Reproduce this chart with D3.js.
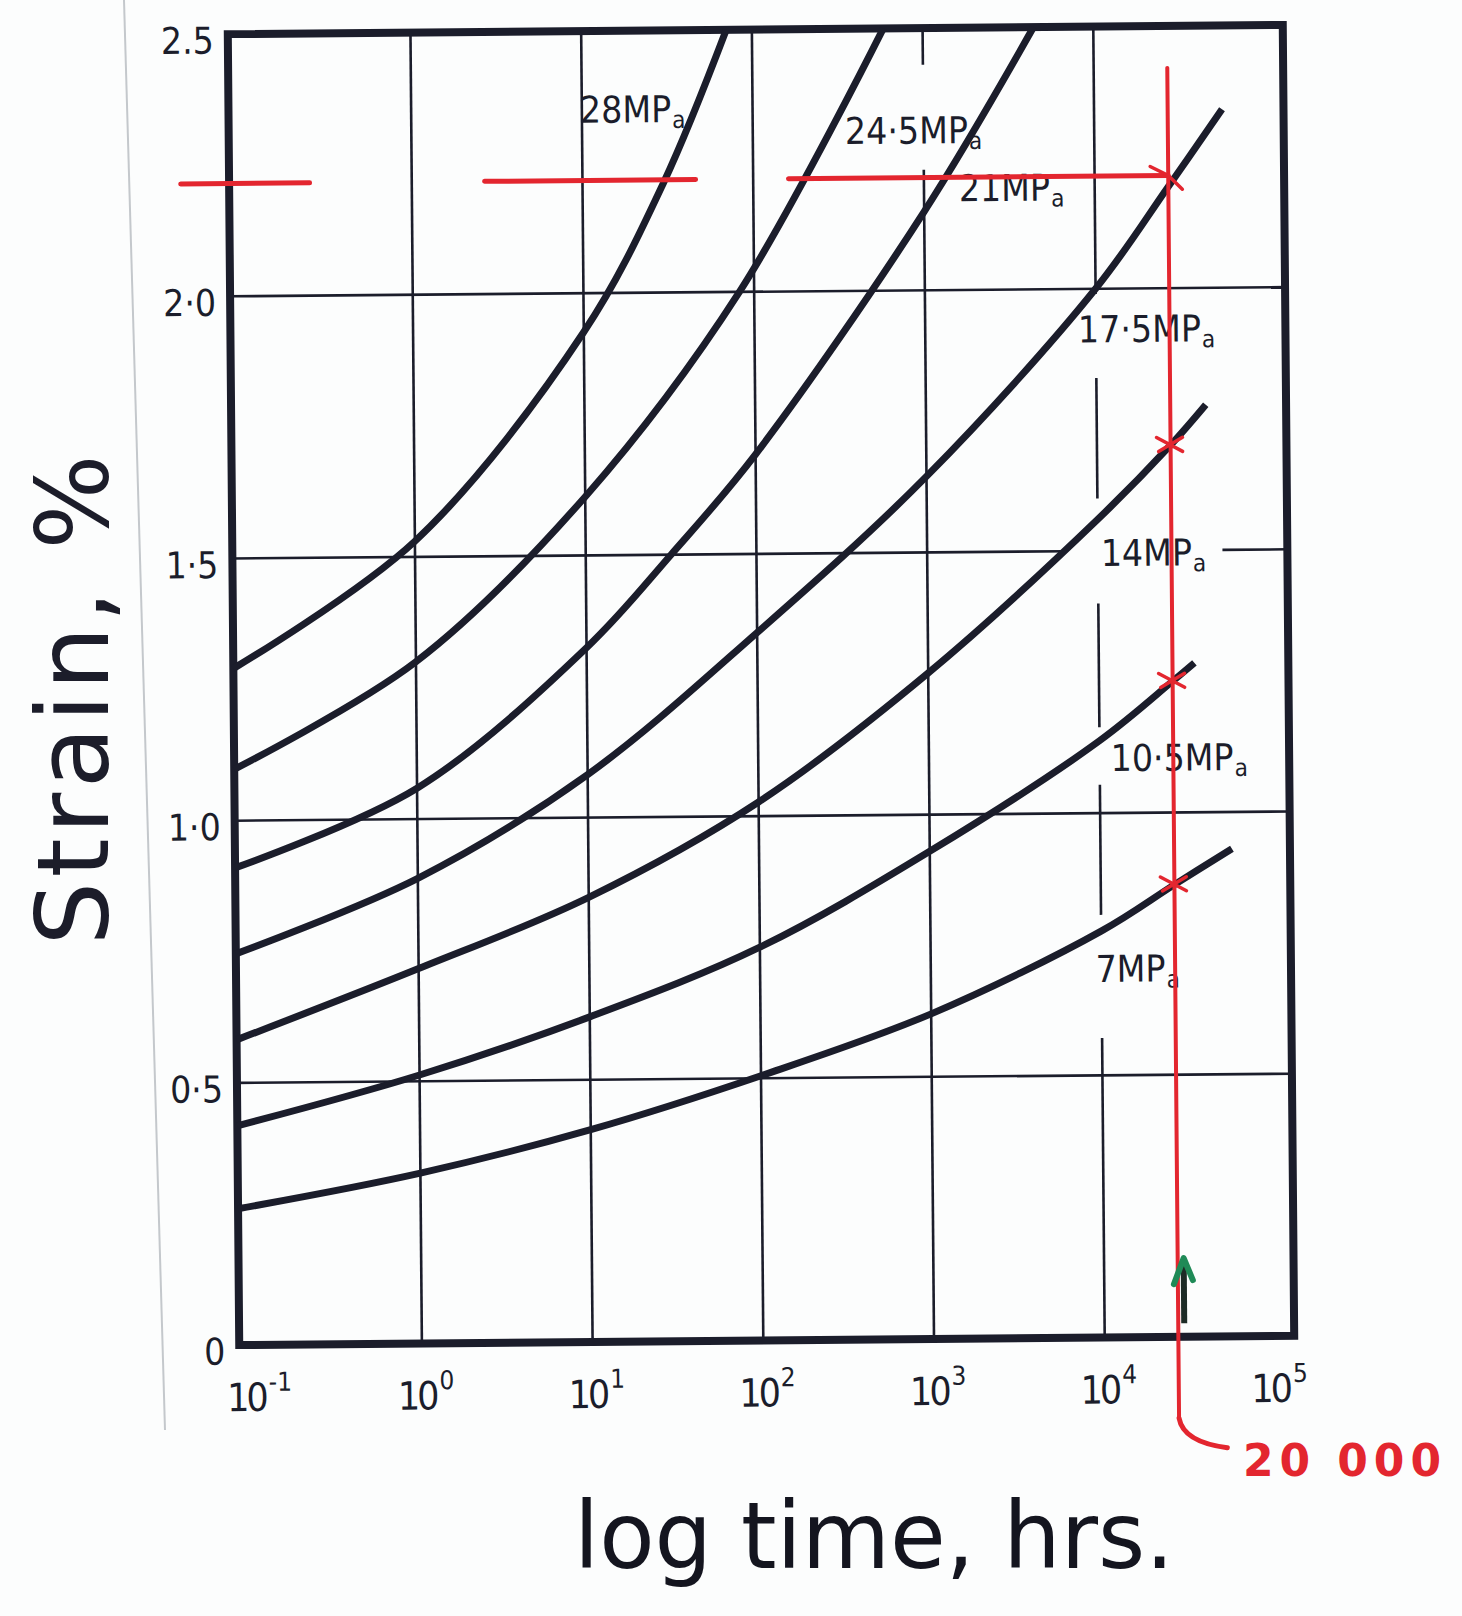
<!DOCTYPE html>
<html>
<head>
<meta charset="utf-8">
<script src="https://cdn.jsdelivr.net/npm/d3@7"></script>
<style>
  body { margin: 0; background: #fcfdfd; }
  svg { display: block; }
</style>
</head>
<body>
<svg id="chart" width="1462" height="1616"></svg>
<script>
// creep curves : strain vs log time, one curve per stress level
var time28 = [0.085, 1, 10, 29.9, 70.8];
var strain28 = [1.29, 1.53, 1.926, 2.21, 2.5];
var time245 = [0.085, 1, 10, 82, 589];
var strain245 = [1.098, 1.30, 1.612, 2.0, 2.5];
var time21 = [0.085, 1, 10, 31.6, 100, 1000, 4470];
var strain21 = [0.91, 1.059, 1.324, 1.5, 1.69, 2.15, 2.5];
var time175 = [0.085, 1, 10, 100, 1000, 10000, 26900, 56200];
var strain175 = [0.746, 0.887, 1.082, 1.35, 1.645, 2.0, 2.193, 2.34];
var time14 = [0.085, 1, 10, 100, 1000, 10000, 26900, 43600];
var strain14 = [0.582, 0.715, 0.848, 1.027, 1.27, 1.56, 1.70, 1.777];
var time105 = [0.085, 1, 10, 100, 1000, 10000, 26900, 36300];
var strain105 = [0.418, 0.512, 0.62, 0.75, 0.93, 1.138, 1.25, 1.285];
var time7 = [0.085, 1, 10, 100, 1000, 10000, 26900, 58900];
var strain7 = [0.26, 0.325, 0.405, 0.505, 0.62, 0.775, 0.862, 0.93];

var stressLabels = ["28", "24·5", "21", "17·5", "14", "10·5", "7"];
var labelTime = [9.75, 347, 1600, 7850, 10400, 11600, 9230];
var labelStrain = [2.325, 2.28, 2.169, 1.898, 1.471, 1.08, 0.678];

var xTickValues = [0.1, 1, 10, 100, 1000, 10000, 100000];
var xTickPowers = ["-1", "0", "1", "2", "3", "4", "5"];
var yTickValues = [0, 0.5, 1, 1.5, 2, 2.5];
var yTickLabels = ["0", "0·5", "1·0", "1·5", "2·0", "2.5"];
var gridTimes = [1, 10, 100, 1000, 10000];
var gridStrains = [0.5, 1, 1.5, 2];
// breaks in the printed grid (round the stress labels)
var timeGridGaps = {1000: [[2.43, 2.23]], 10000: [[1.99, 1.83], [1.60, 1.40], [1.164, 1.054], [0.806, 0.571]]};
var strainGridGaps = {1.5: [[6460, 53700]]};

// hand written notes in red / green
var redStrain = 2.215;
var redTime = 27000;
var redDashes = [[0.0443, 0.252], [2.67, 46], [161, 27000]];
var redTop = 2.42, redBottom = -0.155;
var crossStrains = [1.70, 1.25, 0.862];
var greenArrow = [0.026, 0.15];

var ink = "#1b1d2b";
var red = "#e3262f";
var svg = d3.select("#chart");

var x = d3.scaleLog().domain([Math.pow(10, -1.07), Math.pow(10, 5.11)]).range([233.5, 1288.5]);
var y = d3.scaleLinear().domain([0, 2.5]).range([1340.5, 29.5]);

// the scan is a little skewed
var g = svg.append("g").attr("transform", "rotate(-0.5,761,685)");

// faint page edge from the scan
svg.append("line")
    .attr("x1", 124).attr("y1", 0).attr("x2", 165).attr("y2", 1430)
    .attr("stroke", "#c4c8cc").attr("stroke-width", 2);

function cutSegs(lo, hi, gaps) {
    var out = [], start = lo;
    (gaps || []).forEach(function(gp) {
        out.push([start, gp[0]]);
        start = gp[1];
    });
    out.push([start, hi]);
    return out;
}

var grid = g.append("g").attr("stroke", ink).attr("stroke-width", 2.6);
gridTimes.forEach(function(t) {
    cutSegs(2.5, 0, timeGridGaps[t]).forEach(function(sg) {
        grid.append("line")
            .attr("x1", x(t)).attr("x2", x(t))
            .attr("y1", y(sg[0])).attr("y2", y(sg[1]));
    });
});
gridStrains.forEach(function(s) {
    cutSegs(x.domain()[0], x.domain()[1], strainGridGaps[s]).forEach(function(sg) {
        grid.append("line")
            .attr("x1", x(sg[0])).attr("x2", x(sg[1]))
            .attr("y1", y(s)).attr("y2", y(s));
    });
});

g.append("rect")
    .attr("x", x.range()[0]).attr("y", y(2.5))
    .attr("width", x.range()[1] - x.range()[0])
    .attr("height", y(0) - y(2.5))
    .attr("fill", "none").attr("stroke", ink).attr("stroke-width", 8);

// curves
var series = [
    [time28, strain28], [time245, strain245], [time21, strain21], [time175, strain175],
    [time14, strain14], [time105, strain105], [time7, strain7]
];
var line = d3.line()
    .x(function(d) { return x(d[0]); })
    .y(function(d) { return y(d[1]); })
    .curve(d3.curveCatmullRom.alpha(0.5));

series.forEach(function(sr) {
    var pts = sr[0].map(function(t, i) { return [t, sr[1][i]]; });
    g.append("path")
        .attr("d", line(pts))
        .attr("fill", "none")
        .attr("stroke", ink)
        .attr("stroke-width", 7);
});

var labelFont = "'DejaVu Sans Condensed', 'DejaVu Sans', sans-serif";

stressLabels.forEach(function(lb, i) {
    var t = g.append("text")
        .attr("x", x(labelTime[i])).attr("y", y(labelStrain[i]))
        .attr("font-family", labelFont).attr("font-size", 37)
        .attr("fill", ink);
    t.append("tspan").text(lb + "MP");
    t.append("tspan").text("a")
        .attr("font-size", 24).attr("dx", 1).attr("dy", 6);
});

// axes
var yAxis = g.append("g")
    .attr("transform", "translate(" + (x.range()[0] - 14) + ",0)")
    .call(d3.axisLeft(y).tickValues(yTickValues)
        .tickFormat(function(d, i) { return yTickLabels[i]; })
        .tickSize(0).tickPadding(0));
yAxis.select(".domain").remove();
yAxis.selectAll("text")
    .attr("y", 7)
    .attr("font-family", labelFont).attr("font-size", 37)
    .attr("fill", ink);

var xAxis = g.append("g")
    .attr("transform", "translate(0," + y(0) + ")")
    .call(d3.axisBottom(x).tickValues(xTickValues).tickFormat("").tickSize(0));
xAxis.select(".domain").remove();
xAxis.selectAll(".tick").each(function(d, i) {
    var tx = d3.select(this).append("text")
        .attr("x", -25).attr("y", 66)
        .attr("text-anchor", "start")
        .attr("font-family", labelFont).attr("font-size", 39)
        .attr("letter-spacing", -3)
        .attr("fill", ink);
    tx.append("tspan").text("10");
    tx.append("tspan").text(xTickPowers[i])
        .attr("font-size", 26).attr("dx", 3).attr("dy", -20)
        .attr("letter-spacing", 0);
});

// axis titles (hand written on the copy)
svg.append("text")
    .attr("transform", "translate(108,700) rotate(-90)")
    .attr("text-anchor", "middle")
    .attr("font-family", "'DejaVu Sans', sans-serif")
    .attr("font-size", 100)
    .attr("textLength", 491).attr("lengthAdjust", "spacing")
    .attr("fill", "#1c1d2a")
    .text("Strain, %");

svg.append("text")
    .attr("x", 574).attr("y", 1568)
    .attr("font-family", "'DejaVu Sans', sans-serif")
    .attr("font-size", 92)
    .attr("textLength", 600).attr("lengthAdjust", "spacingAndGlyphs")
    .attr("fill", "#14151f")
    .text("log time, hrs.");

// red construction lines
var notes = g.append("g").attr("stroke", red).attr("fill", "none").attr("stroke-linecap", "round");
redDashes.forEach(function(dd) {
    notes.append("line")
        .attr("x1", x(dd[0])).attr("x2", x(dd[1]))
        .attr("y1", y(redStrain)).attr("y2", y(redStrain))
        .attr("stroke-width", 5);
});
notes.append("line")
    .attr("x1", x(redTime)).attr("x2", x(redTime))
    .attr("y1", y(redTop)).attr("y2", y(redBottom))
    .attr("stroke-width", 4);

// arrow head where the horizontal meets the vertical
var ax = x(redTime), ay = y(redStrain);
notes.append("path")
    .attr("d", "M" + (ax - 18) + "," + (ay - 9) + "L" + ax + "," + ay + "L" + (ax + 14) + "," + (ay + 14))
    .attr("stroke-width", 3.5);

crossStrains.forEach(function(s) {
    var cy = y(s);
    notes.append("path")
        .attr("d", "M" + (ax - 14) + "," + (cy - 8) + "L" + (ax + 12) + "," + (cy + 6) +
            "M" + (ax - 12) + "," + (cy + 6) + "L" + (ax + 12) + "," + (cy - 8))
        .attr("stroke-width", 3.5);
});

// hook down to the "20 000" note
var hb = y(redBottom);
svg.append("path")
    .attr("transform", "rotate(-0.5,761,685)")
    .attr("d", "M" + ax + "," + hb + "Q" + (ax + 4) + "," + (hb + 24) + " " + (ax + 48) + "," + (hb + 30))
    .attr("fill", "none").attr("stroke", red).attr("stroke-width", 5).attr("stroke-linecap", "round");

svg.append("text")
    .attr("x", 1243).attr("y", 1476)
    .attr("font-family", "'DejaVu Sans', sans-serif")
    .attr("font-weight", "bold")
    .attr("font-size", 44)
    .attr("textLength", 198).attr("lengthAdjust", "spacing")
    .attr("fill", red)
    .text("20 000");

// green arrow pointing up at 20 000 hrs
var gx = x(redTime) + 6;
g.append("line")
    .attr("x1", gx).attr("x2", gx)
    .attr("y1", y(greenArrow[0])).attr("y2", y(greenArrow[1]) + 4)
    .attr("stroke", "#1d2b26").attr("stroke-width", 6);
g.append("path")
    .attr("d", "M" + (gx - 10) + "," + (y(greenArrow[1]) + 26) + "L" + gx + "," + y(greenArrow[1]) +
        "L" + (gx + 9) + "," + (y(greenArrow[1]) + 22))
    .attr("fill", "none").attr("stroke", "#1f8a57").attr("stroke-width", 6)
    .attr("stroke-linecap", "round").attr("stroke-linejoin", "round");
</script>
</body>
</html>
